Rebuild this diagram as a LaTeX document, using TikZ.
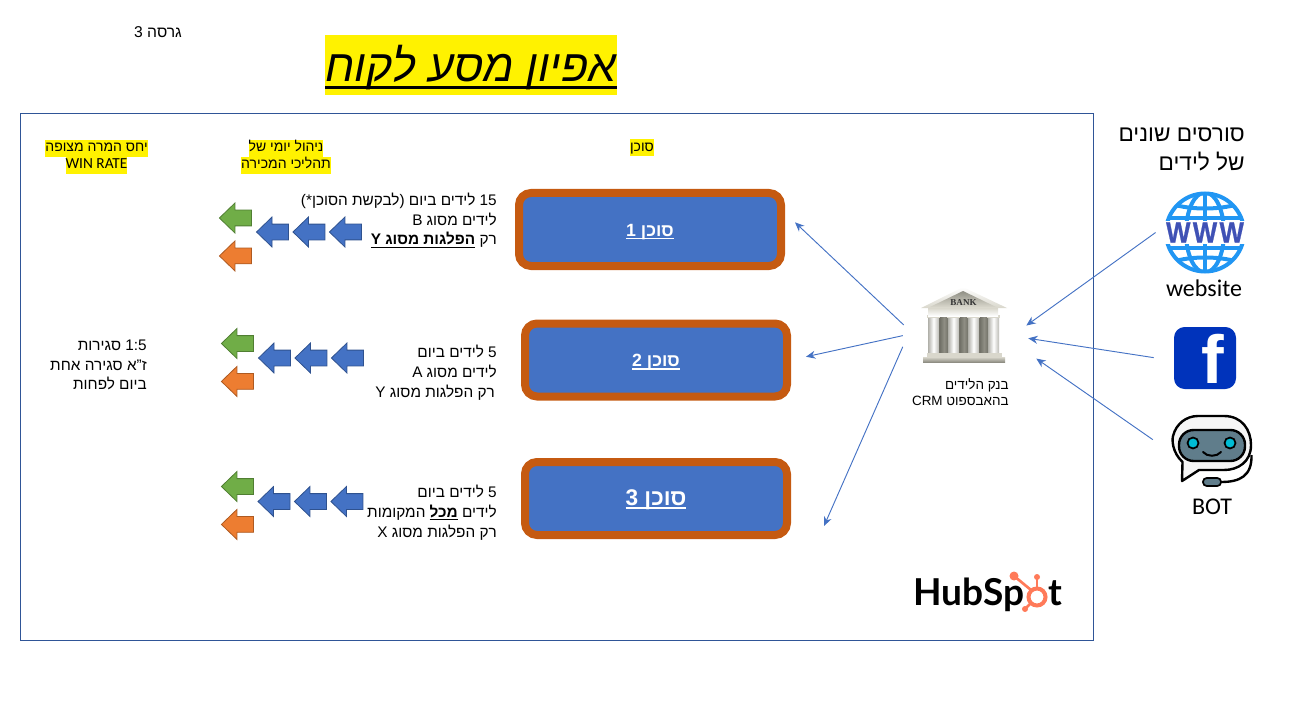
\documentclass[tikz,border=0pt]{standalone}
\usepackage{fontspec}
\setmainfont[Script=Hebrew]{Liberation Sans}
\newfontfamily\carlitofont{Carlito}
\newfontfamily\hubfont{Lato}
\newfontfamily\bankfont{Liberation Serif}
\newfontfamily\wwwfont[FakeStretch=0.88, LetterSpace=8, BoldFeatures={FakeBold=0.7}]{Liberation Sans}
\usetikzlibrary{arrows.meta, positioning, shapes.arrows}
\TeXXeTstate=1
\setlength{\fboxsep}{0pt}

\definecolor{boxblue}{HTML}{4472C4}
\definecolor{boxrim}{HTML}{C55A11}
\definecolor{framecol}{HTML}{2F5597}
\definecolor{bluerim}{HTML}{2F528F}
\definecolor{greenfill}{HTML}{70AD47}
\definecolor{greenrim}{HTML}{507E32}
\definecolor{orangefill}{HTML}{ED7D31}
\definecolor{orangerim}{HTML}{AE5A21}
\definecolor{globeblue}{HTML}{2196F3}
\definecolor{wwwblue}{HTML}{3F51B5}
\definecolor{fbblue}{HTML}{0033BB}
\definecolor{visorgrey}{HTML}{607D8B}
\definecolor{eyecyan}{HTML}{00BCD4}
\definecolor{hubcoral}{HTML}{FF7A59}
\definecolor{bankstone}{HTML}{D9D7CC}
\definecolor{bankdark}{HTML}{55554C}
\definecolor{bankmid}{HTML}{8F8E84}

\newcommand{\heb}[1]{\beginR#1\endR}
\newcommand{\ltr}[1]{\beginL#1\endL{}}
\newcommand{\hilite}[1]{\colorbox{yellow}{\strut#1}}
\newcommand{\ultext}[3]{\vtop{\hbox{#3}\kern-\prevdepth\kern#1\hrule height #2}}

\begin{document}
\begin{tikzpicture}[
		x=0.75pt, y=-0.75pt,
		agent/.style={rectangle, draw=boxrim, fill=boxblue, line width=6pt, rounded corners=9pt, minimum width=196.5pt, minimum height=54.75pt, inner sep=0pt, text=white, text height=10pt, text depth=0pt},
		iconbox/.style={rectangle, inner sep=0pt},
		bodytext/.style={align=right, anchor=east, inner sep=0pt, font=\fontsize{11.5}{14.8}\selectfont},
		smalltext/.style={align=right, anchor=east, inner sep=0pt, font=\fontsize{10.1}{12.2}\selectfont},
		headtext/.style={align=center, inner sep=0pt, font=\fontsize{10.5}{12.75}\selectfont},
		flow/.style={shape=single arrow, shape border rotate=180, single arrow head extend=5.3pt, single arrow tip angle=88, single arrow head indent=0pt, minimum height=24pt, inner sep=0pt, line width=0.6pt, execute at begin node=\rule{0pt}{11.25pt}},
		bluearrow/.style={flow, draw=bluerim, fill=boxblue},
		greenarrow/.style={flow, draw=greenrim, fill=greenfill},
		orangearrow/.style={flow, draw=orangerim, fill=orangefill},
		link/.style={-{Stealth[length=7pt, width=6pt]}, draw=boxblue, line width=0.7pt}
		]
		\useasboundingbox (0,0) rectangle (1291,702);
		\draw [framecol, line width=0.7pt] (20,113) rectangle (1093,640);

		% top texts
		\node [inner sep=0pt, font=\fontsize{11.75}{13}\selectfont] (version) at (158,32) {\heb{גרסה \ltr{3}}};
		\node [iconbox, fill=yellow, minimum width=219pt, minimum height=45pt, text height=25.5pt, text depth=0pt, font=\fontsize{33.5}{38}\itshape] (title) at (471,65)
			{\ultext{3pt}{2.5pt}{\heb{אפיון מסע לקוח}}};

		% column heads
		\node [headtext] (head rate) at (96.5,157) {\hilite{\heb{יחס המרה מצופה}}\\\hilite{\fontsize{11.5}{12.75}\carlitofont\ltr{WIN RATE}}};
		\node [headtext] (head daily) at (286,157) {\hilite{\heb{ניהול יומי של}}\\\hilite{\heb{תהליכי המכירה}}};
		\node [headtext] (head agent) at (642,148) {\hilite{\heb{סוכן}}};

		% agents
		\node [agent, font=\fontsize{13.3}{16}\bfseries] (agent one) at (650,229.5) {\ultext{1.3pt}{1pt}{\heb{סוכן \ltr{1}}}};
		\node [agent, font=\fontsize{13.3}{16}\bfseries] (agent two) at (656,360) {\ultext{1.3pt}{1pt}{\heb{סוכן \ltr{2}}}};
		\node [agent, font=\fontsize{17}{20}\bfseries] (agent three) at (656,498.5) {\ultext{1.6pt}{1.2pt}{\heb{סוכן \ltr{3}}}};
		\coordinate (agent three in) at (824,526);

		% lead rules per agent
		\node [bodytext] (rules one) at (497,220.5) {\heb{\ltr{15} לידים ביום (לבקשת הסוכן*)}\\\heb{לידים מסוג \ltr{B}}\\\heb{רק \ultext{1.5pt}{0.9pt}{\bfseries\heb{הפלגות מסוג \ltr{Y}}}}};
		\node [bodytext] (rules two) at (497,372.5) {\heb{\ltr{5} לידים ביום}\\\heb{לידים מסוג \ltr{A}}\\\heb{רק הפלגות מסוג \ltr{Y}}\hspace*{1.5pt}};
		\node [bodytext] (rules three) at (497,512.5) {\heb{\ltr{5} לידים ביום}\\\heb{לידים \ultext{1.5pt}{0.9pt}{\bfseries\heb{מכל}} המקומות}\\\heb{רק הפלגות מסוג \ltr{X}}};
		\node [bodytext] (rate) at (147,365) {\heb{\ltr{1:5} סגירות}\\\heb{ז"א סגירה אחת}\\\heb{ביום לפחות}};

		% arrows, row by row
		\node [bluearrow] (one c) at (349.5,232) {};
		\node [bluearrow, left=2.6pt of one c] (one b) {};
		\node [bluearrow, left=2.6pt of one b] (one a) {};
		\node [greenarrow] (one up) at (239.5,218) {};
		\node [orangearrow, below=16pt of one up] (one down) {};

		\node [bluearrow] (two c) at (351.5,358) {};
		\node [bluearrow, left=2.6pt of two c] (two b) {};
		\node [bluearrow, left=2.6pt of two b] (two a) {};
		\node [greenarrow] (two up) at (241.5,343.5) {};
		\node [orangearrow, below=16pt of two up] (two down) {};

		\node [bluearrow] (three c) at (351,501.5) {};
		\node [bluearrow, left=2.6pt of three c] (three b) {};
		\node [bluearrow, left=2.6pt of three b] (three a) {};
		\node [greenarrow] (three up) at (241.5,486.5) {};
		\node [orangearrow, below=16pt of three up] (three down) {};

		% bank
		\node [iconbox, minimum width=65.25pt, minimum height=57pt] (bank) at (963.5,325) {};
		\foreach \gapx in {936,956,976}
			\shade [left color=bankdark, right color=bankdark, middle color=bankmid] (\gapx,314) rectangle ++(16,40);
		\foreach \colx in {928,948,968,988}
		{
			\shade [left color=bankmid!70, right color=bankmid!60, middle color=white] (\colx,318) rectangle ++(11,35);
			\fill [bankstone] (\colx-1,315) rectangle ++(13,3);
		}
		\shade [top color=white, bottom color=bankstone] (963,287) -- (1007,308) -- (921,308) -- cycle;
		\shade [top color=bankmid, bottom color=bankstone] (963,291) -- (996,307) -- (930,307) -- cycle;
		\shade [top color=bankstone, bottom color=white] (928,308) rectangle (998,316);
		\fill [bankstone] (927,353) rectangle (1002,357);
		\shade [top color=bankstone, bottom color=bankmid] (923,357) rectangle (1005,362);
		\node [inner sep=0pt, text=black!80, font=\bankfont\fontsize{6.8}{7}\bfseries] (bank sign) at (963.5,303) {BANK};
		\node [smalltext] (bank label) at (1009,392) {\heb{בנק הלידים}\\\heb{בהאבספוט \ltr{CRM}}};

		% sources
		\node [align=right, anchor=east, inner sep=0pt, font=\fontsize{17}{21.3}\selectfont] (sources) at (1245,149.5) {\heb{סורסים שונים}\\\heb{של לידים}};

		\node [circle, draw=globeblue, line width=3pt, minimum size=58.5pt, inner sep=0pt] (website) at (1205,232.5) {};
		\begin{scope}
			\clip (website.center) circle (40);
			\draw [globeblue, line width=3pt] (website.center) ellipse (19 and 40);
			\draw [globeblue, line width=3pt] (1205,192) -- (1205,273);
			\draw [globeblue, line width=3pt] (1160,218) -- (1250,218);
			\draw [globeblue, line width=3pt] (1160,248) -- (1250,248);
			\draw [globeblue, line width=3pt] (1172,204) .. controls (1190,210) and (1220,210) .. (1238,204);
			\draw [globeblue, line width=3pt] (1172,262) .. controls (1190,256) and (1220,256) .. (1238,262);
		\end{scope}
		\node [fill=white, inner sep=0pt, minimum width=64pt, minimum height=17pt, text=wwwblue, font=\wwwfont\fontsize{22}{23}\bfseries] (www) at (1205,232.5) {WWW};
		\node [inner sep=0pt, font=\carlitofont\fontsize{18}{20}\selectfont] (website label) at (1204,288) {website};

		\node [iconbox, fill=fbblue, rounded corners=8pt, minimum size=46.5pt] (facebook) at (1205,358) {};
		\node [inner sep=0pt, text=white, font=\fontsize{51}{52}\bfseries, anchor=base] (fb glyph) at (1212.5,383) {f};

		\node [iconbox, minimum width=60pt, minimum height=53pt] (bot) at (1212,450) {};
		\draw [black, fill=black!4, line width=1.8pt, line join=round] (1182,481) -- (1182.5,462) .. controls (1172,452) and (1172,440) .. (1173,436) .. controls (1176,424) and (1186,416) .. (1198,416) -- (1224,416) .. controls (1242,416) and (1251,430) .. (1251,445) .. controls (1251,462) and (1238,470) .. (1224,470) -- (1199,470) -- cycle;
		\draw [black, fill=visorgrey, line width=1.8pt, rounded corners=11pt] (1179,430) rectangle (1245,461);
		\draw [black, fill=eyecyan, line width=1.3pt] (1193,443) circle (5.5);
		\draw [black, fill=eyecyan, line width=1.3pt] (1230,443) circle (5.5);
		\draw [black, line width=1.5pt, line cap=round] (1203,452) .. controls (1207,457) and (1217,457) .. (1221,452);
		\draw [black, line width=1.8pt] (1221,482) .. controls (1240,482) and (1252,476) .. (1251.5,455);
		\draw [black, fill=visorgrey, line width=1.3pt, rounded corners=2.8pt] (1203,478) rectangle (1221,486);
		\node [inner sep=0pt, font=\carlitofont\fontsize{18}{20}\selectfont] (bot label) at (1212,507) {BOT};

		% hubspot mark
		\node [inner sep=0pt, anchor=base west, font=\hubfont\fontsize{27.8}{30}\bfseries] (hub name) at (913,605) {HubSp};
		\node [inner sep=0pt, anchor=base east, font=\hubfont\fontsize{27.8}{30}\bfseries] (hub end) at (1063,605) {t};
		\draw [hubcoral, line width=3pt] (1037,597) circle (8.5);
		\draw [hubcoral, line width=2pt] (1014,576) -- (1031,590);
		\draw [hubcoral, line width=2pt] (1037,577) -- (1037,588);
		\draw [hubcoral, line width=2pt] (1025,609) -- (1031,603);
		\fill [hubcoral] (1014,576) circle (4.5);
		\fill [hubcoral] (1037,577) circle (3);
		\fill [hubcoral] (1025,609) circle (3);

		% links
		\draw [link, shorten <=16.5pt, shorten >=10.3pt] (bank.199) -- (agent one.7);
		\draw [link, shorten <=13pt, shorten >=11.5pt] (bank.189.5) -- (agent two.0);
		\draw [link, shorten <=31.6pt] (bank.159) -- (agent three in);
		\draw [link, shorten <=8.3pt, shorten >=17.6pt] (website.171.7) -- (bank.-18.7);
		\draw [link, shorten <=15.2pt, shorten >=15.9pt] (facebook.185.5) -- (bank.-13.9);
		\draw [link, shorten <=17.3pt, shorten >=26.5pt] (bot.184.6) -- (bank.-17.7);
	\end{tikzpicture}
\end{document}
